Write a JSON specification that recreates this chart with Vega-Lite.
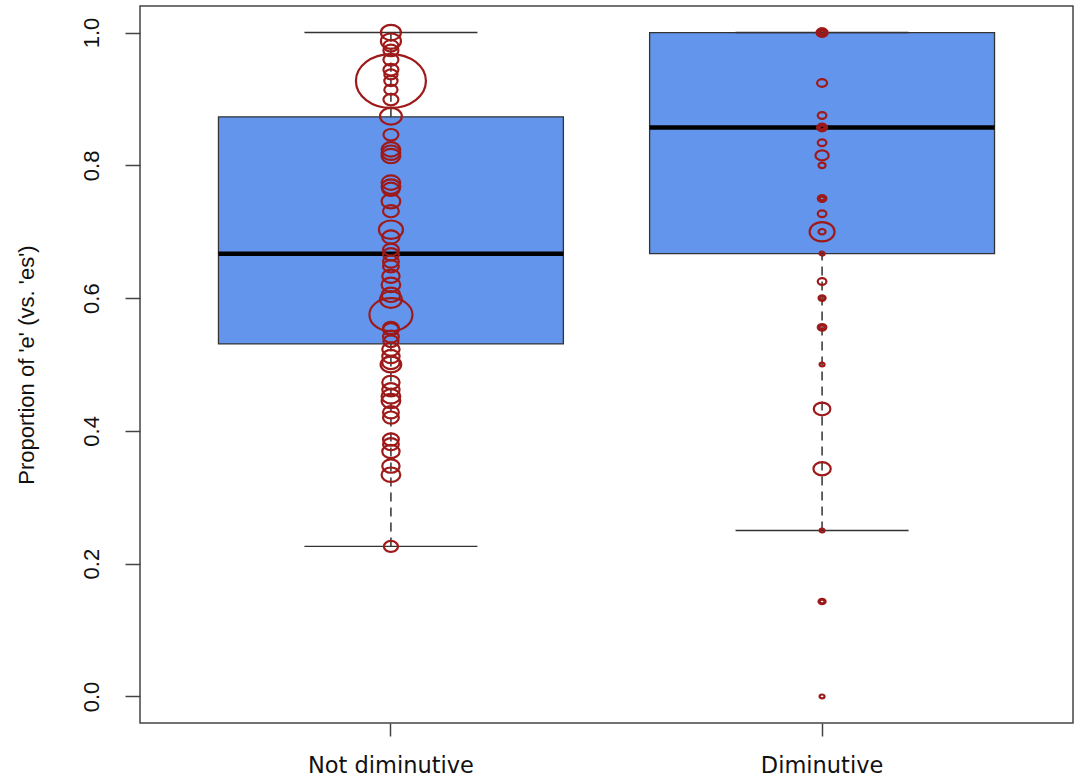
{
  "$schema": "https://vega.github.io/schema/vega-lite/v6.json",
  "autosize": "none",
  "width": 933,
  "height": 717,
  "padding": {"left": 140, "top": 6, "right": 3, "bottom": 54},
  "background": "white",
  "view": {"stroke": "#444", "strokeWidth": 1.5},
  "config": {
    "axis": {"domain": false, "grid": false, "tickColor": "#444", "tickWidth": 1.5, "labelColor": "#111", "titleColor": "#111"}
  },
  "datasets": {
    "boxes": [
      {"group": "Not diminutive", "lower": 0.226, "q1": 0.531, "median": 0.667, "q3": 0.873, "upper": 1.0},
      {"group": "Diminutive", "lower": 0.25, "q1": 0.667, "median": 0.857, "q3": 1.0, "upper": 1.0}
    ],
    "points": [
      {"group": "Not diminutive", "prop": 1.0, "n": 16},
      {"group": "Not diminutive", "prop": 0.987, "n": 16},
      {"group": "Not diminutive", "prop": 0.98, "n": 9},
      {"group": "Not diminutive", "prop": 0.973, "n": 9},
      {"group": "Not diminutive", "prop": 0.959, "n": 9},
      {"group": "Not diminutive", "prop": 0.944, "n": 9},
      {"group": "Not diminutive", "prop": 0.937, "n": 7},
      {"group": "Not diminutive", "prop": 0.927, "n": 7},
      {"group": "Not diminutive", "prop": 0.927, "n": 196},
      {"group": "Not diminutive", "prop": 0.914, "n": 7},
      {"group": "Not diminutive", "prop": 0.899, "n": 9},
      {"group": "Not diminutive", "prop": 0.874, "n": 19},
      {"group": "Not diminutive", "prop": 0.846, "n": 9},
      {"group": "Not diminutive", "prop": 0.824, "n": 14},
      {"group": "Not diminutive", "prop": 0.819, "n": 14},
      {"group": "Not diminutive", "prop": 0.814, "n": 14},
      {"group": "Not diminutive", "prop": 0.774, "n": 14},
      {"group": "Not diminutive", "prop": 0.768, "n": 14},
      {"group": "Not diminutive", "prop": 0.764, "n": 12},
      {"group": "Not diminutive", "prop": 0.746, "n": 14},
      {"group": "Not diminutive", "prop": 0.731, "n": 10},
      {"group": "Not diminutive", "prop": 0.703, "n": 23},
      {"group": "Not diminutive", "prop": 0.692, "n": 12},
      {"group": "Not diminutive", "prop": 0.673, "n": 10},
      {"group": "Not diminutive", "prop": 0.666, "n": 10},
      {"group": "Not diminutive", "prop": 0.655, "n": 10},
      {"group": "Not diminutive", "prop": 0.648, "n": 10},
      {"group": "Not diminutive", "prop": 0.633, "n": 12},
      {"group": "Not diminutive", "prop": 0.62, "n": 14},
      {"group": "Not diminutive", "prop": 0.605, "n": 14},
      {"group": "Not diminutive", "prop": 0.598, "n": 19},
      {"group": "Not diminutive", "prop": 0.575, "n": 74},
      {"group": "Not diminutive", "prop": 0.555, "n": 10},
      {"group": "Not diminutive", "prop": 0.553, "n": 10},
      {"group": "Not diminutive", "prop": 0.542, "n": 10},
      {"group": "Not diminutive", "prop": 0.535, "n": 9},
      {"group": "Not diminutive", "prop": 0.523, "n": 12},
      {"group": "Not diminutive", "prop": 0.512, "n": 12},
      {"group": "Not diminutive", "prop": 0.503, "n": 12},
      {"group": "Not diminutive", "prop": 0.5, "n": 17},
      {"group": "Not diminutive", "prop": 0.473, "n": 12},
      {"group": "Not diminutive", "prop": 0.462, "n": 12},
      {"group": "Not diminutive", "prop": 0.452, "n": 14},
      {"group": "Not diminutive", "prop": 0.445, "n": 14},
      {"group": "Not diminutive", "prop": 0.428, "n": 10},
      {"group": "Not diminutive", "prop": 0.42, "n": 10},
      {"group": "Not diminutive", "prop": 0.387, "n": 10},
      {"group": "Not diminutive", "prop": 0.38, "n": 10},
      {"group": "Not diminutive", "prop": 0.369, "n": 12},
      {"group": "Not diminutive", "prop": 0.347, "n": 12},
      {"group": "Not diminutive", "prop": 0.334, "n": 14},
      {"group": "Not diminutive", "prop": 0.226, "n": 8},
      {"group": "Diminutive", "prop": 1.0, "n": 1},
      {"group": "Diminutive", "prop": 1.0, "n": 2},
      {"group": "Diminutive", "prop": 1.0, "n": 3},
      {"group": "Diminutive", "prop": 1.0, "n": 4},
      {"group": "Diminutive", "prop": 1.0, "n": 5},
      {"group": "Diminutive", "prop": 0.924, "n": 4},
      {"group": "Diminutive", "prop": 0.875, "n": 3},
      {"group": "Diminutive", "prop": 0.857, "n": 1},
      {"group": "Diminutive", "prop": 0.857, "n": 2},
      {"group": "Diminutive", "prop": 0.857, "n": 3},
      {"group": "Diminutive", "prop": 0.857, "n": 4},
      {"group": "Diminutive", "prop": 0.834, "n": 3},
      {"group": "Diminutive", "prop": 0.815, "n": 7},
      {"group": "Diminutive", "prop": 0.8, "n": 2},
      {"group": "Diminutive", "prop": 0.75, "n": 1},
      {"group": "Diminutive", "prop": 0.75, "n": 2},
      {"group": "Diminutive", "prop": 0.75, "n": 3},
      {"group": "Diminutive", "prop": 0.727, "n": 3},
      {"group": "Diminutive", "prop": 0.7, "n": 25},
      {"group": "Diminutive", "prop": 0.7, "n": 2},
      {"group": "Diminutive", "prop": 0.667, "n": 1},
      {"group": "Diminutive", "prop": 0.625, "n": 3},
      {"group": "Diminutive", "prop": 0.6, "n": 1},
      {"group": "Diminutive", "prop": 0.6, "n": 2},
      {"group": "Diminutive", "prop": 0.556, "n": 3},
      {"group": "Diminutive", "prop": 0.556, "n": 1},
      {"group": "Diminutive", "prop": 0.5, "n": 1},
      {"group": "Diminutive", "prop": 0.433, "n": 11},
      {"group": "Diminutive", "prop": 0.343, "n": 12},
      {"group": "Diminutive", "prop": 0.25, "n": 1},
      {"group": "Diminutive", "prop": 0.143, "n": 1},
      {"group": "Diminutive", "prop": 0.143, "n": 2},
      {"group": "Diminutive", "prop": 0.0, "n": 1}
    ]
  },
  "encoding": {
    "x": {
      "field": "group",
      "type": "nominal",
      "sort": ["Not diminutive", "Diminutive"],
      "scale": {"paddingInner": 0.2, "paddingOuter": 0.182},
      "axis": {"title": null, "labelAngle": 0, "labelFont": "DejaVu Sans", "labelFontSize": 22.5, "tickSize": 13, "labelPadding": 18, "labelLimit": 0}
    }
  },
  "layer": [
    {
      "data": {"name": "boxes"},
      "mark": {"type": "bar", "color": "#6495ED", "stroke": "#333", "strokeWidth": 1.3},
      "encoding": {
        "y": {
          "field": "q1",
          "type": "quantitative",
          "scale": {"domain": [-0.04, 1.04], "nice": false, "zero": false},
          "axis": {
            "title": "Proportion of 'e' (vs. 'es')",
            "values": [0, 0.2, 0.4, 0.6, 0.8, 1.0],
            "format": ".1f",
            "labelAngle": -90,
            "labelAlign": "center",
            "labelBaseline": "bottom",
            "labelFont": "Liberation Sans",
            "labelFontSize": 22,
            "labelPadding": 22,
            "tickSize": 15,
            "titleFont": "Liberation Sans",
            "titleFontSize": 22,
            "titleFontWeight": "normal",
            "titlePadding": 42
          }
        },
        "y2": {"field": "q3"}
      }
    },
    {
      "data": {"name": "boxes"},
      "mark": {"type": "rule", "color": "#222", "strokeWidth": 1.4, "strokeDash": [9, 6]},
      "encoding": {"y": {"field": "lower", "type": "quantitative"}, "y2": {"field": "q1"}}
    },
    {
      "data": {"name": "boxes"},
      "mark": {"type": "rule", "color": "#222", "strokeWidth": 1.4, "strokeDash": [9, 6]},
      "encoding": {"y": {"field": "q3", "type": "quantitative"}, "y2": {"field": "upper"}}
    },
    {
      "data": {"name": "boxes"},
      "mark": {"type": "tick", "color": "#333", "size": 173, "thickness": 1.4, "opacity": 1},
      "encoding": {"y": {"field": "lower", "type": "quantitative"}}
    },
    {
      "data": {"name": "boxes"},
      "mark": {"type": "tick", "color": "#333", "size": 173, "thickness": 1.4, "opacity": 1},
      "encoding": {"y": {"field": "upper", "type": "quantitative"}}
    },
    {
      "data": {"name": "boxes"},
      "mark": {"type": "tick", "color": "#000", "size": 345, "thickness": 4.5, "opacity": 1},
      "encoding": {"y": {"field": "median", "type": "quantitative"}}
    },
    {
      "data": {"name": "points"},
      "mark": {
        "type": "point",
        "filled": false,
        "stroke": "#9E1A1A",
        "strokeWidth": 2.2,
        "strokeOpacity": 1,
        "opacity": 1,
        "shape": "M1,0C1,0.4253,0.5523,0.77,0,0.77C-0.5523,0.77,-1,0.4253,-1,0C-1,-0.4253,-0.5523,-0.77,0,-0.77C0.5523,-0.77,1,-0.4253,1,0Z"
      },
      "encoding": {
        "y": {"field": "prop", "type": "quantitative"},
        "size": {"field": "n", "type": "quantitative", "scale": {"type": "linear", "domain": [0, 200], "range": [0, 5000]}, "legend": null}
      }
    }
  ]
}
